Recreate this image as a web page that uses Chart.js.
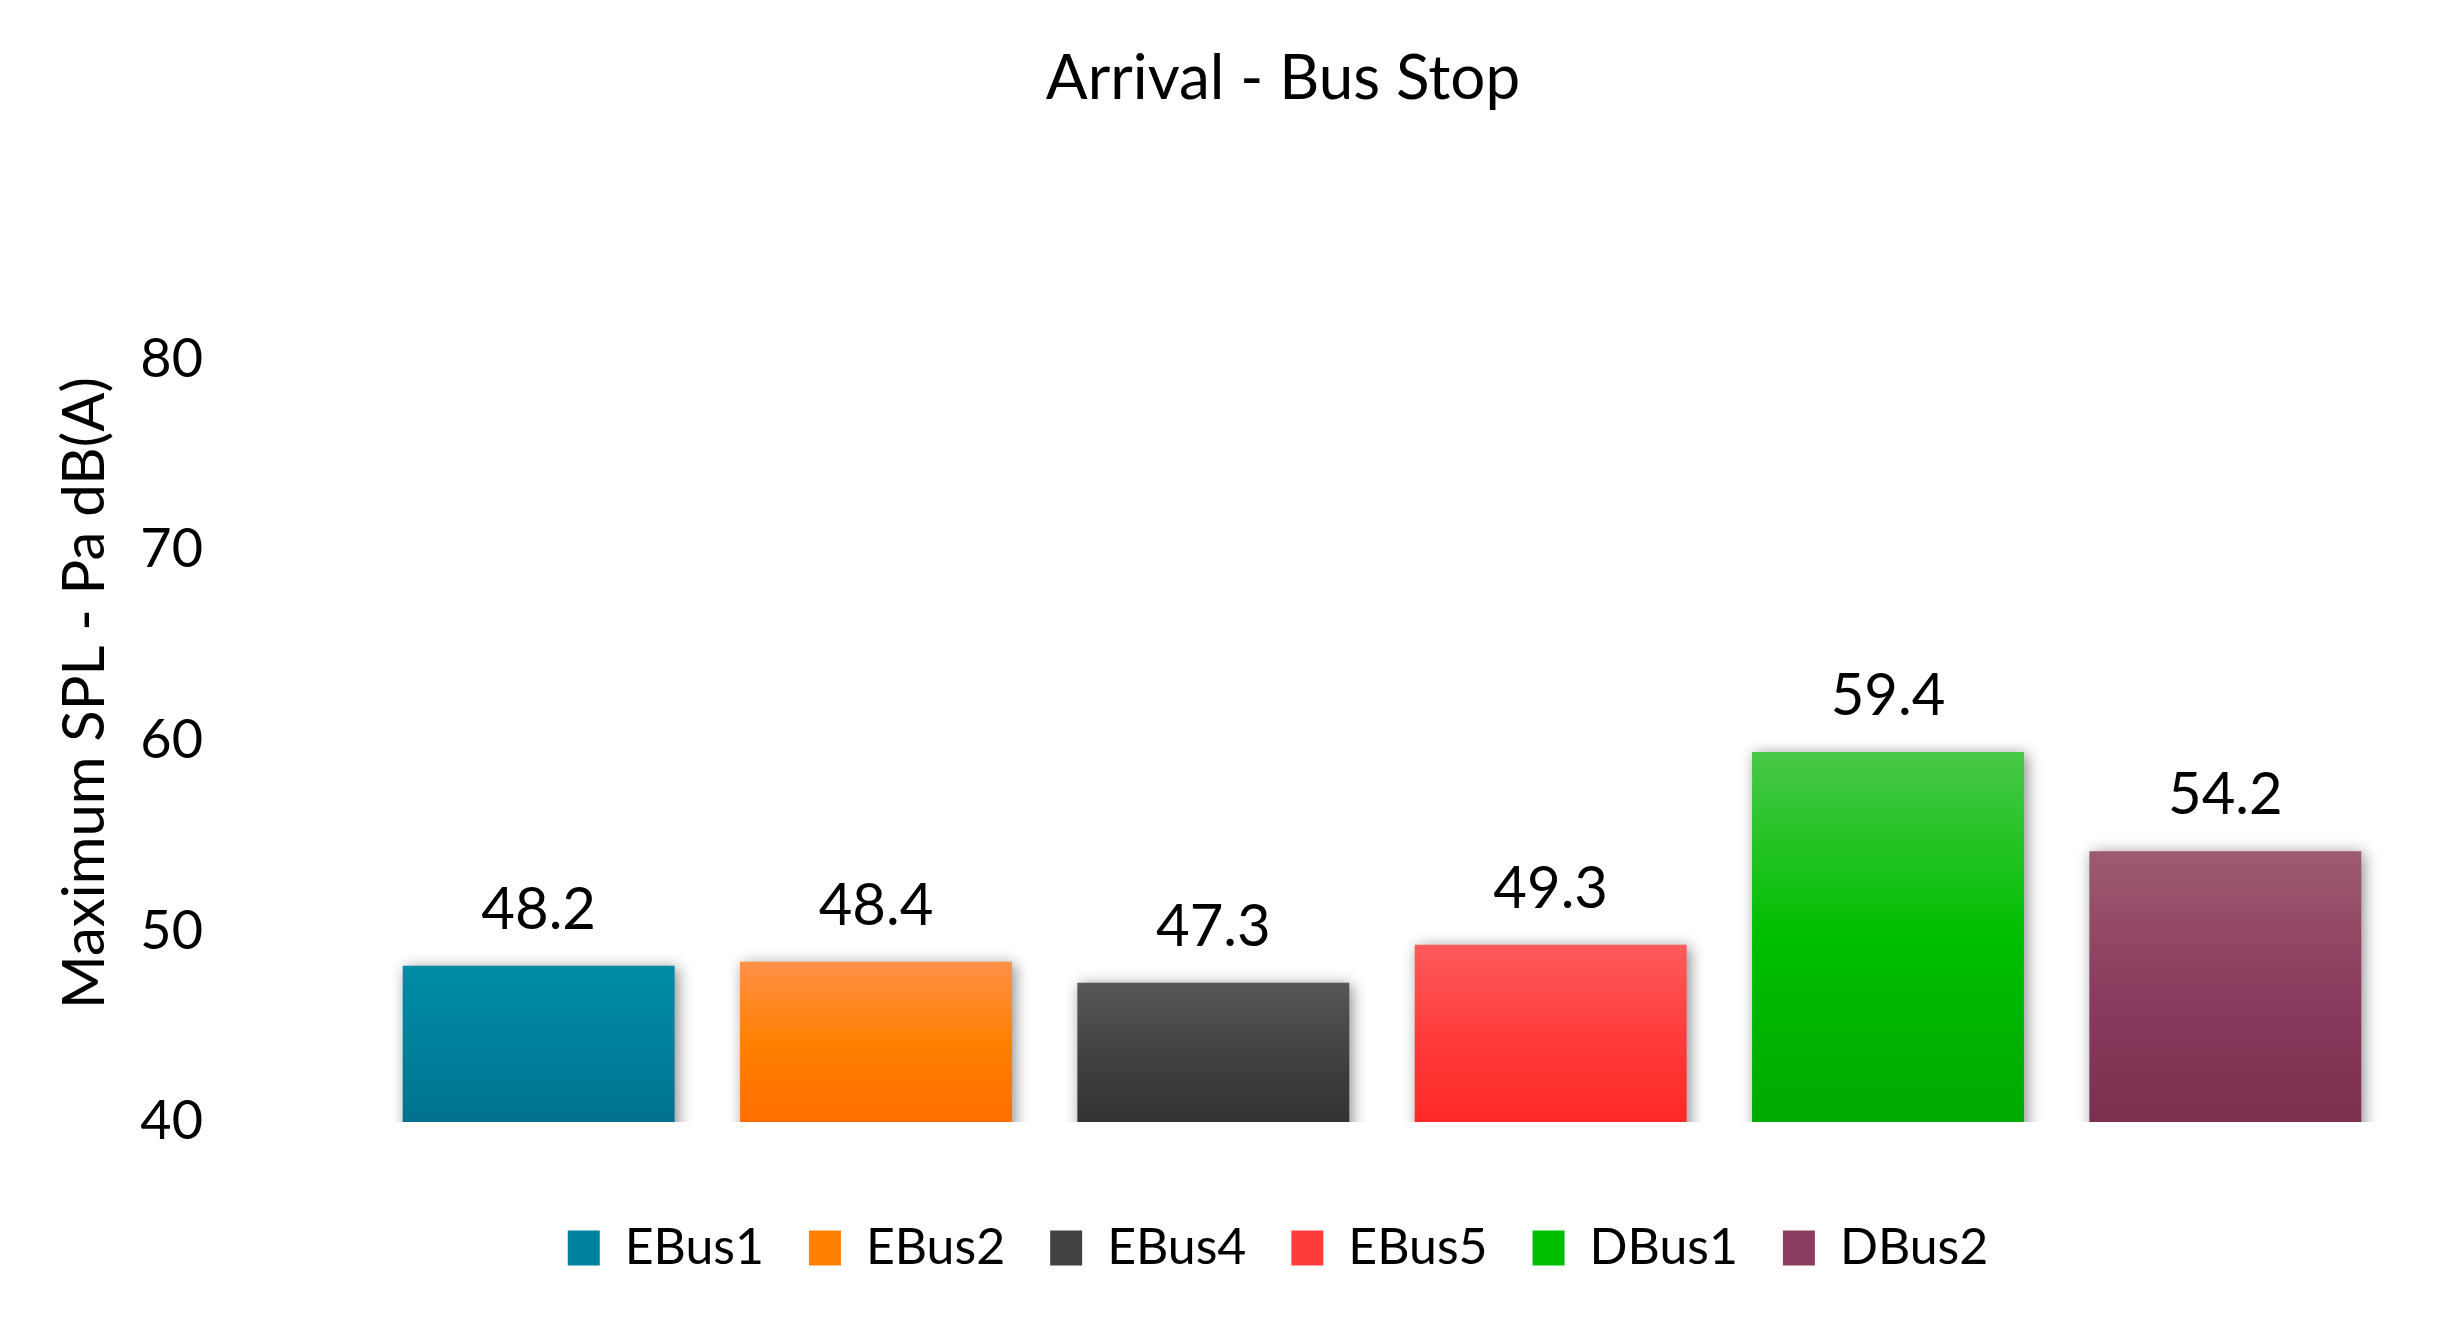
<!DOCTYPE html>
<html>
<head>
<meta charset="utf-8">
<script src="https://cdn.jsdelivr.net/npm/chart.js@4/dist/chart.umd.min.js"></script>
<style>
  html, body { margin: 0; padding: 0; background: #ffffff; }
  #wrap { width: 2442px; height: 1332px; }
</style>
</head>
<body>
<div id="wrap"><canvas id="c" width="2442" height="1332"></canvas></div>
<script>
// ---- data ----
const categories = ["EBus1", "EBus2", "EBus4", "EBus5", "DBus1", "DBus2"];
const values = [48.2, 48.4, 47.3, 49.3, 59.4, 54.2];
const yTicks = [40, 50, 60, 70, 80];
const chartTitle = "Arrival - Bus Stop";
const yAxisTitle = "Maximum SPL - Pa dB(A)";

// ---- styles ----
const topColors = ["#008ca7", "#ff9048", "#575757", "#ff5b5b", "#48c848", "#9d5b72"];
const midColors = ["#00819c", "#ff8000", "#424242", "#ff3c3c", "#00be00", "#8c3c5e"];
const botColors = ["#00728f", "#ff6f00", "#333333", "#ff2828", "#00a900", "#7d2f50"];
const FONT = "Lato, 'Open Sans', sans-serif";

function barGradient(ctx) {
  const chart = ctx.chart;
  const i = ctx.dataIndex;
  if (!chart.chartArea || i === undefined) return midColors[i] || midColors[0];
  const ys = chart.scales.y;
  const yTop = ys.getPixelForValue(values[i]);
  const yBot = ys.getPixelForValue(ys.min);
  const g = chart.ctx.createLinearGradient(0, yTop, 0, yBot);
  g.addColorStop(0, topColors[i]);
  g.addColorStop(0.5, midColors[i]);
  g.addColorStop(1, botColors[i]);
  return g;
}

const shadowPlugin = {
  id: 'barShadow',
  beforeDatasetsDraw(chart) {
    const c = chart.ctx;
    c.save();
    c.shadowColor = 'rgba(0,0,0,0.45)';
    c.shadowBlur = 14;
    c.shadowOffsetX = 3;
    c.shadowOffsetY = 2;
  },
  afterDatasetsDraw(chart) {
    chart.ctx.restore();
  }
};

const labelPlugin = {
  id: 'valueLabels',
  afterDatasetsDraw(chart) {
    const c = chart.ctx;
    const meta = chart.getDatasetMeta(0);
    c.save();
    c.fillStyle = '#000000';
    c.font = "58px " + FONT;
    c.textAlign = 'center';
    c.textBaseline = 'alphabetic';
    meta.data.forEach((bar, i) => {
      c.fillText(values[i].toFixed(1), bar.x, bar.y - 37);
    });
    c.restore();
  }
};

// shift title and legend horizontally to match the original placement
const placementPlugin = {
  id: 'placement',
  afterLayout(chart) {
    const t = chart.titleBlock;
    if (t) { t.left = 2 * 1283 - t.right; }
    const l = chart.legend;
    if (l) { l.left += 81; l.right += 81; }
  }
};

new Chart(document.getElementById('c'), {
  type: 'bar',
  data: {
    labels: categories,
    datasets: [{
      label: 'Maximum SPL',
      data: values,
      backgroundColor: barGradient,
      borderWidth: 0,
      categoryPercentage: 1.0,
      barPercentage: 0.806
    }]
  },
  options: {
    responsive: false,
    animation: false,
    devicePixelRatio: 1,
    layout: { padding: { left: 0, right: 48, top: 0, bottom: 49 } },
    plugins: {
      title: {
        display: true,
        text: chartTitle,
        color: '#000000',
        font: { family: FONT, size: 62, weight: 'normal' },
        padding: { top: 42, bottom: 147.6 }
      },
      legend: {
        display: true,
        position: 'bottom',
        labels: {
          color: '#000000',
          font: { family: FONT, size: 50 },
          boxWidth: 32,
          boxHeight: 35,
          padding: 45,
          generateLabels(chart) {
            return categories.map((name, i) => ({
              text: name,
              fillStyle: midColors[i],
              strokeStyle: midColors[i],
              lineWidth: 0,
              hidden: false,
              index: i,
              datasetIndex: 0
            }));
          }
        },
        onClick: null
      },
      tooltip: { enabled: false }
    },
    scales: {
      x: {
        display: true,
        grid: { display: false, drawTicks: false },
        border: { display: false },
        ticks: { display: false },
        afterFit(scale) { scale.height = 56; }
      },
      y: {
        min: 40,
        max: 85,
        afterBuildTicks(scale) { scale.ticks = yTicks.map(v => ({ value: v })); },
        grid: { display: false, drawTicks: false },
        border: { display: false },
        ticks: {
          color: '#000000',
          font: { family: FONT, size: 54 },
          padding: 167
        },
        title: {
          display: true,
          text: yAxisTitle,
          color: '#000000',
          font: { family: FONT, size: 58 },
          padding: { top: 50, bottom: 0 }
        },
        afterFit(scale) { scale.width = 370; }
      }
    }
  },
  plugins: [shadowPlugin, labelPlugin, placementPlugin]
});
</script>
</body>
</html>
